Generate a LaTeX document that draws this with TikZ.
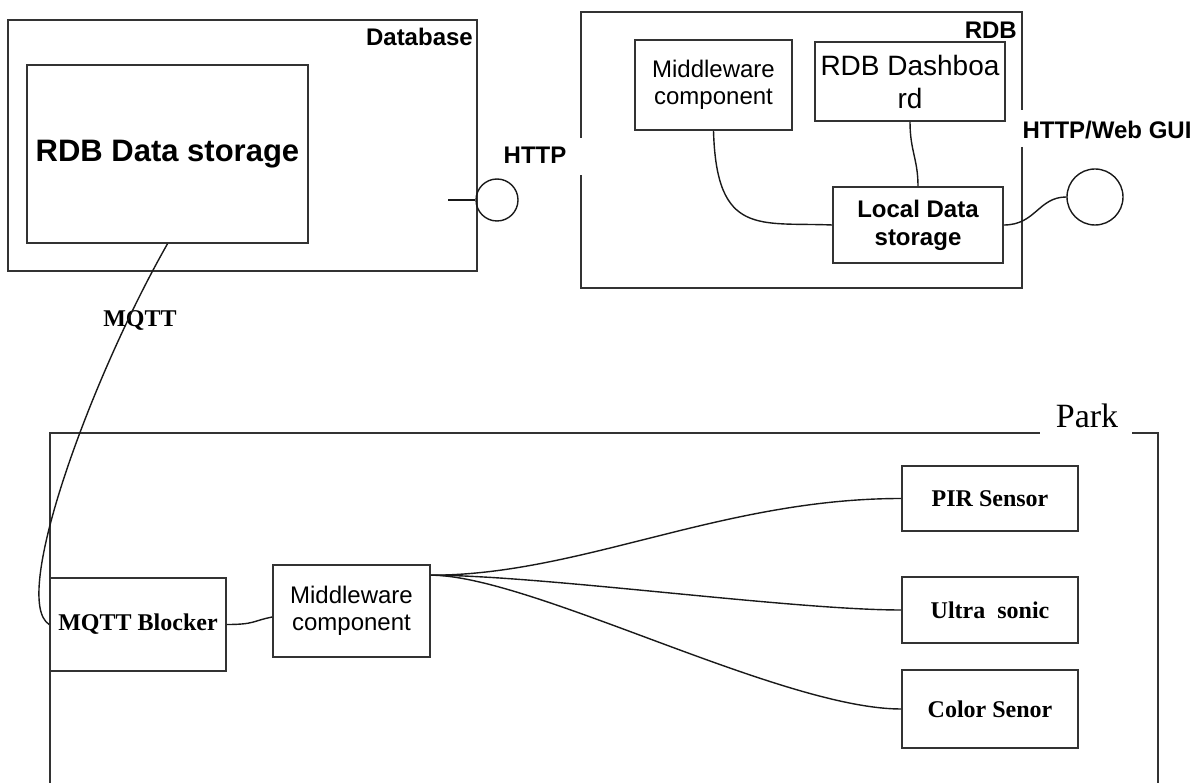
\documentclass[tikz,border=0pt]{standalone}
\usepackage{fontspec}
\setmainfont{Liberation Serif}
\newfontfamily\arialf{Liberation Sans}
\usetikzlibrary{calc}
\begin{document}
\begin{tikzpicture}[x=1pt,y=-1pt,
  box/.style={draw=black!80,line width=1.6pt,inner sep=0pt,align=center},
  frame/.style={draw=black!80,line width=1.6pt},
  wire/.style={draw=black!90,line width=1.4pt},
  port/.style={draw=black!90,line width=1.4pt,circle,inner sep=0pt},
  sansb/.style={font=\arialf\bfseries\fontsize{24}{28}\selectfont},
  sansr/.style={font=\arialf\fontsize{24}{27}\selectfont},
  serifb/.style={font=\bfseries\fontsize{24}{28}\selectfont},
  lbl/.style={inner sep=0pt}]
\useasboundingbox (0,0) rectangle (1200,783);

% ---------- Database ----------
\node[box, minimum width=469pt, minimum height=251pt] (db) at (242.5,145.5) {};
\node[lbl, sansb, anchor=east] (dblbl) at (473,37) {Database};
\node[box, minimum width=281pt, minimum height=178pt,
      font=\arialf\bfseries\fontsize{31}{36}\selectfont] (store) at (167.5,154) {RDB Data storage};
\node[port, minimum size=42pt] (httpc) at (497,200) {};
\coordinate (httpend) at (448,200);
\draw[wire] (httpend) -- (httpc.west);
\node[lbl, sansb] (httplbl) at (535,155) {HTTP};

% ---------- RDB ----------
\draw[frame] (581,138) -- (581,12) -- (1022,12) -- (1022,110)
             (1022,147) -- (1022,288) -- (581,288) -- (581,175);
\node[lbl, sansb, anchor=east] (rdblbl) at (1017,30) {RDB};
\node[box, sansr, minimum width=157pt, minimum height=90pt] (mw1) at (713.5,85) {Middleware\\component};
\node[box, minimum width=190pt, minimum height=79pt,
      font=\arialf\fontsize{28}{33}\selectfont] (dash) at (910,81.5) {RDB Dashboa\\rd};
\node[box, sansb, minimum width=170pt, minimum height=76pt] (local) at (918,225) {Local Data\\storage};
\node[port, minimum size=56pt] (webc) at (1095,197) {};
\node[lbl, sansb] (weblbl) at (1107,130) {HTTP/Web GUI};

\draw[wire] (mw1.south) .. controls +(3,106) and +(-73,-3) .. (local.west);
\draw[wire] (dash.south) .. controls +(0,29) and +(0,-27) .. (local.north);
\draw[wire] (local.east) .. controls +(32,0) and +(-28,0) .. (webc.west);

% ---------- MQTT link ----------
\node[lbl, serifb] (mqttlbl) at (140,321) {MQTT};

% ---------- Park ----------
\draw[frame] (50,783) -- (50,433) -- (1040,433)
             (1132,433) -- (1158,433) -- (1158,783);
\node[lbl, font=\fontsize{34}{38}\selectfont] (parklbl) at (1087,416) {Park};

\node[box, serifb, minimum width=176pt, minimum height=93pt] (blocker) at (138,624.5) {MQTT Blocker};
\node[box, sansr, minimum width=157pt, minimum height=92pt] (mw2) at (351.5,611) {Middleware\\component};
\node[box, serifb, minimum width=176pt, minimum height=65pt] (pir) at (990,498.5) {PIR Sensor};
\node[box, serifb, minimum width=176pt, minimum height=66pt] (ultra) at (990,610) {Ultra\ \ sonic};
\node[box, serifb, minimum width=176pt, minimum height=78pt] (color) at (990,709) {Color Senor};

\draw[wire] (store.south) .. controls (90,380) and (10,600) .. (blocker.west);
\draw[wire] (blocker.east) .. controls +(28,0) and +(-20,4) .. ($(mw2.west)+(0,6)$);

\coordinate (fan) at ($(mw2.north east)+(0,11)$);
\draw[wire] (fan) .. controls +(150,0) and +(-180,0) .. (pir.west);
\draw[wire] (fan) .. controls +(110,0) and +(-110,0) .. (ultra.west);
\draw[wire] (fan) .. controls +(100,0) and +(-120,0) .. (color.west);
\end{tikzpicture}
\end{document}
